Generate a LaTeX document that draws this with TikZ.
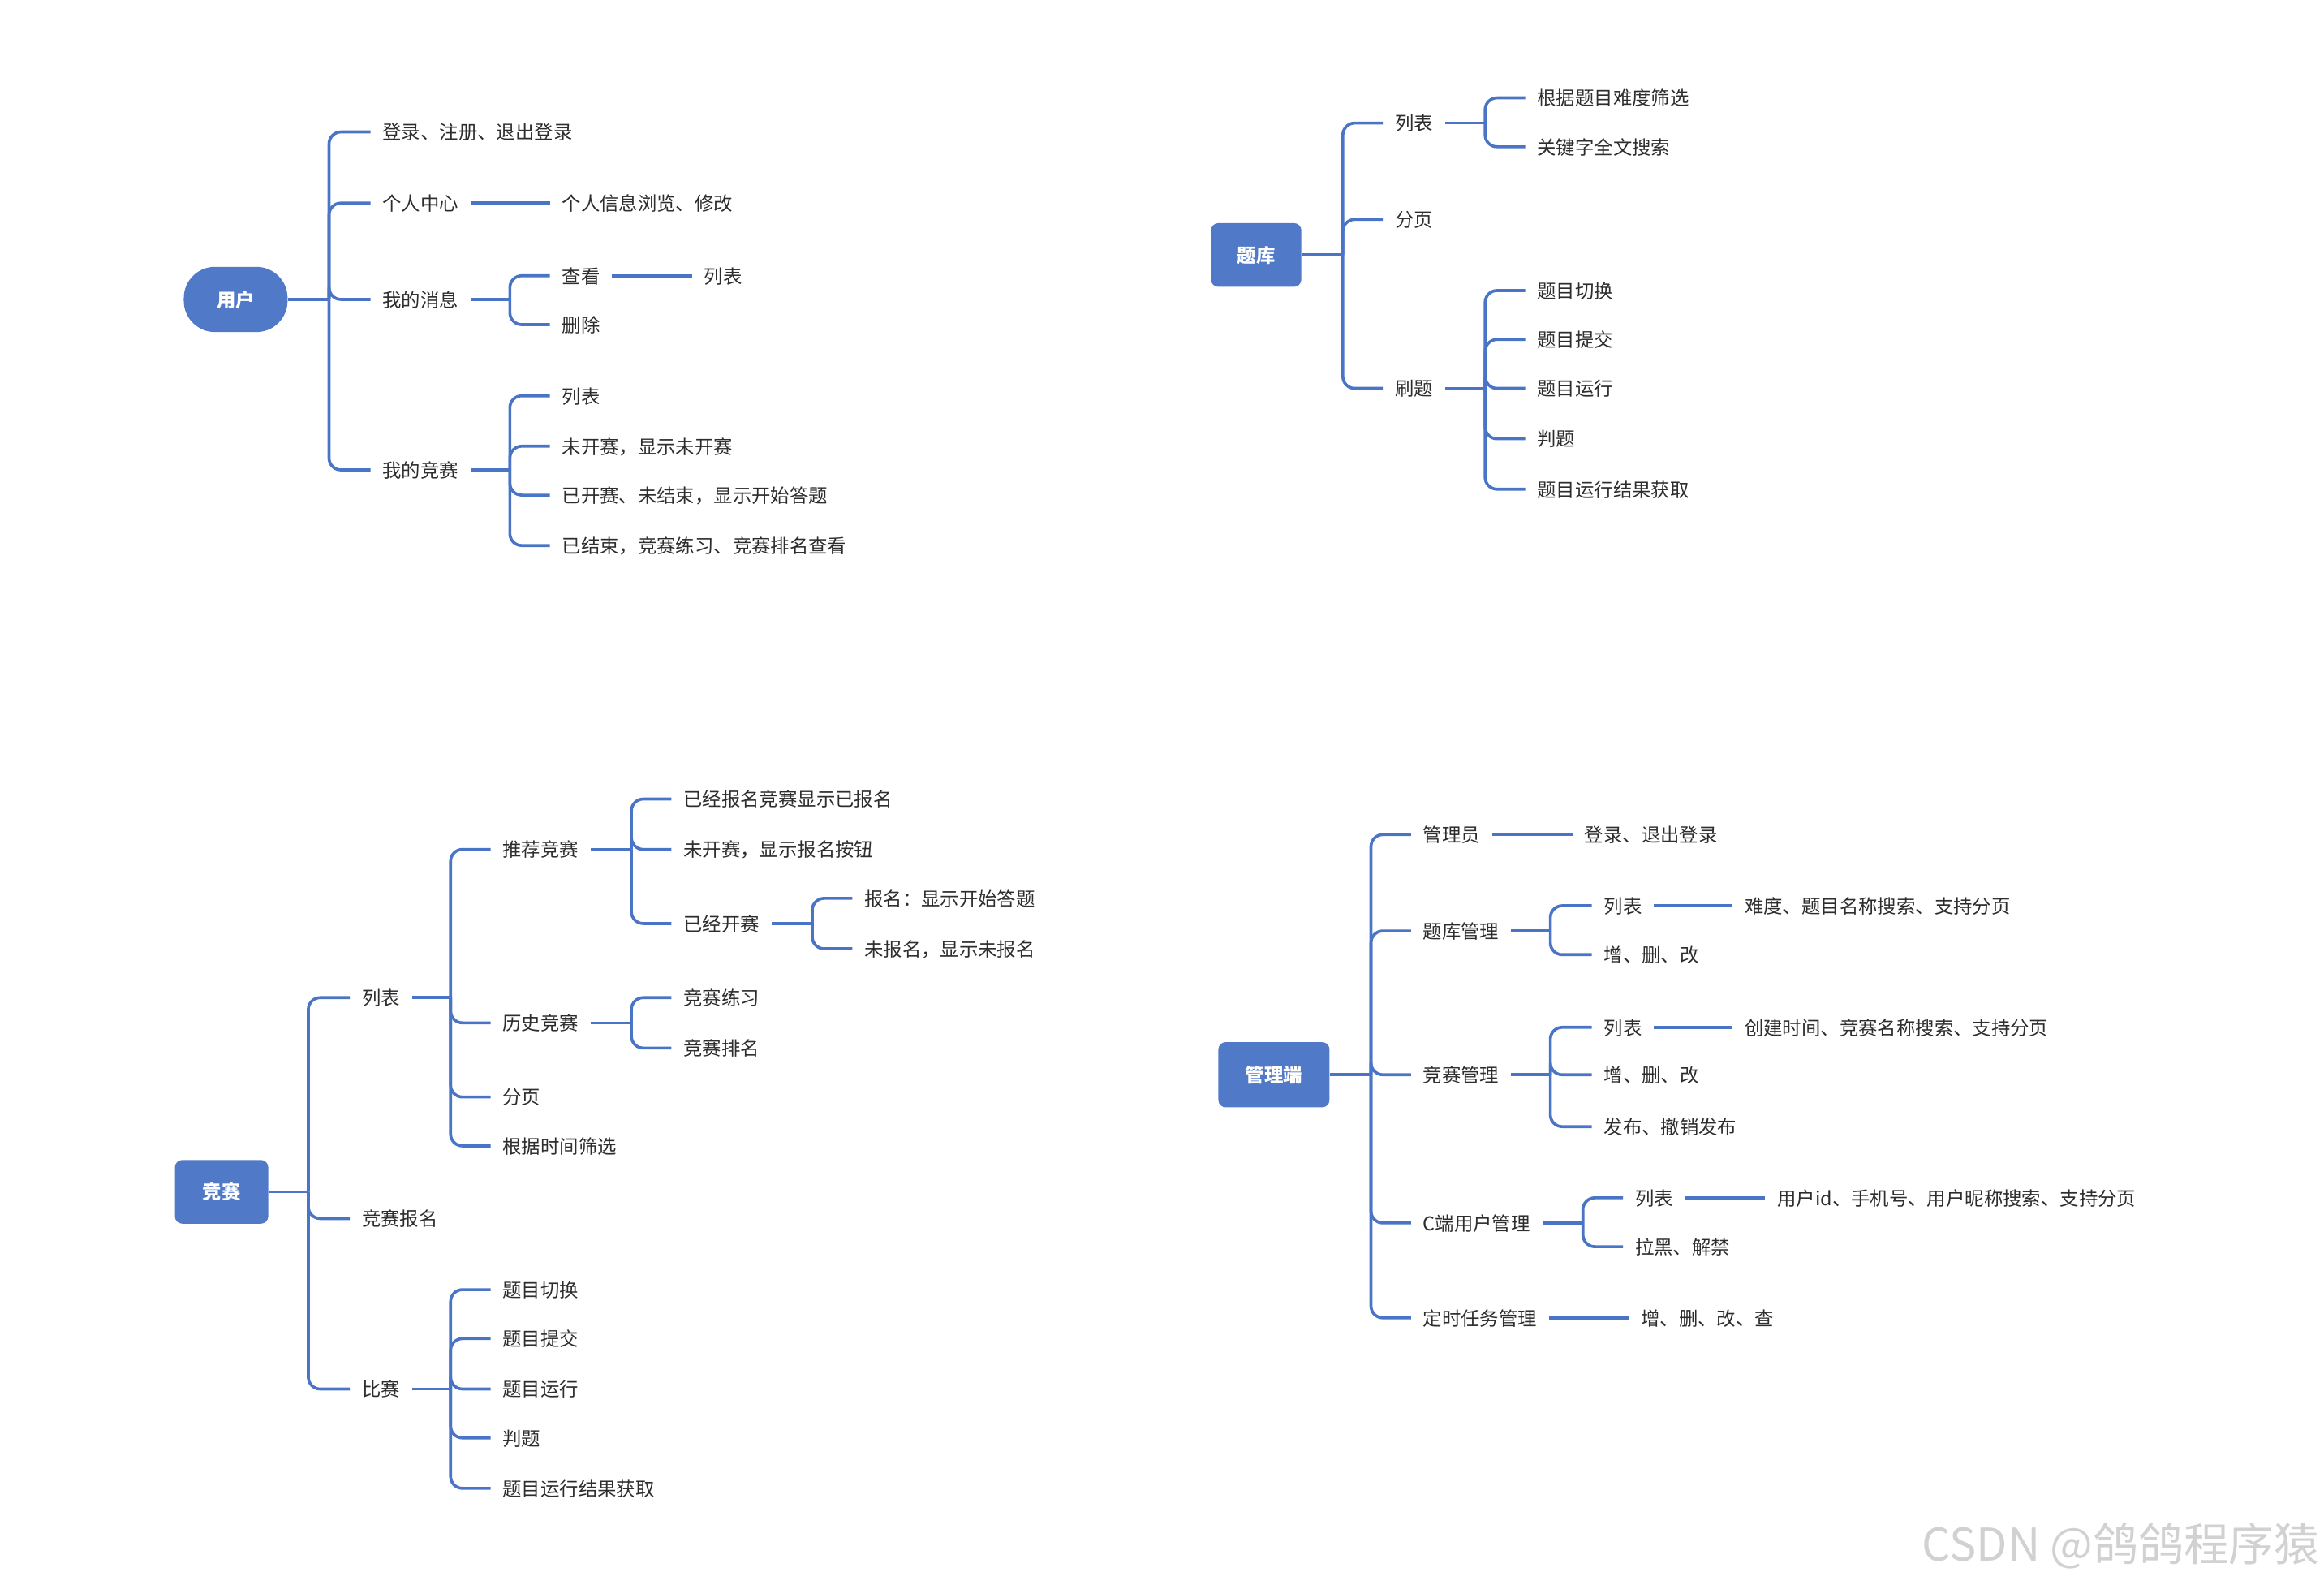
\documentclass[tikz,border=0pt]{standalone}
\usepackage{fontspec}
\newfontfamily\cjk{Noto Sans CJK SC}
\definecolor{lineblue}{RGB}{74,116,198}
\definecolor{rootblue}{RGB}{80,122,200}
\definecolor{txt}{RGB}{45,45,45}
\begin{document}
\begin{tikzpicture}[x=1pt,y=-1pt,
  conn/.style={draw=lineblue,line width=2pt,rounded corners=8pt},
  leaf/.style={anchor=west,inner xsep=8pt,inner ysep=2pt,text height=1.02em,text depth=0em,text=txt,font=\cjk\fontsize{12.8}{14}\selectfont},
  rootbox/.style={fill=rootblue,text=white,font=\cjk\bfseries\fontsize{12.8}{14}\selectfont,text height=1.02em,text depth=0em,rounded corners=5pt,inner sep=0pt},
  pill/.style={rootbox,rounded corners=21pt}]
\useasboundingbox (0,0) rectangle (1568,1069);

% ===== 用户 =====
\node[pill,minimum width=70pt,minimum height=44pt] (u) at (159,202) {用户};
\coordinate (uT) at (222,202);
\node[leaf] (u1) at (250,89) {登录、注册、退出登录};
\node[leaf] (u2) at (250,137) {个人中心};
\node[leaf] (u3) at (250,202) {我的消息};
\node[leaf] (u4) at (250,317) {我的竞赛};
\node[leaf] (u21) at (371,137) {个人信息浏览、修改};
\coordinate (u3T) at (344,202);
\node[leaf] (u31) at (371,186) {查看};
\node[leaf] (u32) at (371,219) {删除};
\node[leaf] (u311) at (467,186) {列表};
\coordinate (u4T) at (344,317);
\node[leaf] (u41) at (371,267) {列表};
\node[leaf] (u42) at (371,301) {未开赛，显示未开赛};
\node[leaf] (u43) at (371,334) {已开赛、未结束，显示开始答题};
\node[leaf] (u44) at (371,368) {已结束，竞赛练习、竞赛排名查看};
\draw[conn] (u.east) -- (uT);
\foreach \c in {u1,u2,u3,u4} \draw[conn] (uT) |- (\c.west);
\draw[conn] (u2.east) -- (u21.west);
\draw[conn] (u3.east) -- (u3T);
\foreach \c in {u31,u32} \draw[conn] (u3T) |- (\c.west);
\draw[conn] (u31.east) -- (u311.west);
\draw[conn] (u4.east) -- (u4T);
\foreach \c in {u41,u42,u43,u44} \draw[conn] (u4T) |- (\c.west);

% ===== 题库 =====
\node[rootbox,minimum width=61pt,minimum height=43pt] (t) at (847.5,172) {题库};
\coordinate (tT) at (906,172);
\node[leaf] (t1) at (933,83) {列表};
\node[leaf] (t2) at (933,148) {分页};
\node[leaf] (t3) at (933,262) {刷题};
\coordinate (t1T) at (1002,83);
\node[leaf] (t11) at (1029,66) {根据题目难度筛选};
\node[leaf] (t12) at (1029,99) {关键字全文搜索};
\coordinate (t3T) at (1002,262);
\node[leaf] (t31) at (1029,196) {题目切换};
\node[leaf] (t32) at (1029,229) {题目提交};
\node[leaf] (t33) at (1029,262) {题目运行};
\node[leaf] (t34) at (1029,296) {判题};
\node[leaf] (t35) at (1029,330) {题目运行结果获取};
\draw[conn] (t.east) -- (tT);
\foreach \c in {t1,t2,t3} \draw[conn] (tT) |- (\c.west);
\draw[conn] (t1.east) -- (t1T);
\foreach \c in {t11,t12} \draw[conn] (t1T) |- (\c.west);
\draw[conn] (t3.east) -- (t3T);
\foreach \c in {t31,t32,t33,t34,t35} \draw[conn] (t3T) |- (\c.west);

% ===== 竞赛 =====
\node[rootbox,minimum width=63pt,minimum height=43pt] (c) at (149.5,804) {竞赛};
\coordinate (cT) at (208,804);
\node[leaf] (c1) at (236,673) {列表};
\node[leaf] (c2) at (236,822) {竞赛报名};
\node[leaf] (c3) at (236,937) {比赛};
\coordinate (c1T) at (304,673);
\node[leaf] (c11) at (331,573) {推荐竞赛};
\node[leaf] (c12) at (331,690) {历史竞赛};
\node[leaf] (c13) at (331,740) {分页};
\node[leaf] (c14) at (331,773) {根据时间筛选};
\coordinate (c11T) at (426,573);
\node[leaf] (c111) at (453,539) {已经报名竞赛显示已报名};
\node[leaf] (c112) at (453,573) {未开赛，显示报名按钮};
\node[leaf] (c113) at (453,623) {已经开赛};
\coordinate (c113T) at (548,623);
\node[leaf] (c1131) at (575,606) {报名：显示开始答题};
\node[leaf] (c1132) at (575,640) {未报名，显示未报名};
\coordinate (c12T) at (426,690);
\node[leaf] (c121) at (453,673) {竞赛练习};
\node[leaf] (c122) at (453,707) {竞赛排名};
\coordinate (c3T) at (304,937);
\node[leaf] (c31) at (331,870) {题目切换};
\node[leaf] (c32) at (331,903) {题目提交};
\node[leaf] (c33) at (331,937) {题目运行};
\node[leaf] (c34) at (331,970) {判题};
\node[leaf] (c35) at (331,1004) {题目运行结果获取};
\draw[conn] (c.east) -- (cT);
\foreach \k in {c1,c2,c3} \draw[conn] (cT) |- (\k.west);
\draw[conn] (c1.east) -- (c1T);
\foreach \k in {c11,c12,c13,c14} \draw[conn] (c1T) |- (\k.west);
\draw[conn] (c11.east) -- (c11T);
\foreach \k in {c111,c112,c113} \draw[conn] (c11T) |- (\k.west);
\draw[conn] (c113.east) -- (c113T);
\foreach \k in {c1131,c1132} \draw[conn] (c113T) |- (\k.west);
\draw[conn] (c12.east) -- (c12T);
\foreach \k in {c121,c122} \draw[conn] (c12T) |- (\k.west);
\draw[conn] (c3.east) -- (c3T);
\foreach \k in {c31,c32,c33,c34,c35} \draw[conn] (c3T) |- (\k.west);

% ===== 管理端 =====
\node[rootbox,minimum width=75pt,minimum height=44pt] (m) at (859.5,725) {管理端};
\coordinate (mT) at (925,725);
\node[leaf] (m1) at (952,563) {管理员};
\node[leaf] (m2) at (952,628) {题库管理};
\node[leaf] (m3) at (952,725) {竞赛管理};
\node[leaf] (m4) at (952,825) {C端用户管理};
\node[leaf] (m5) at (952,889) {定时任务管理};
\node[leaf] (m11) at (1061,563) {登录、退出登录};
\coordinate (m2T) at (1046,628);
\node[leaf] (m21) at (1074,611) {列表};
\node[leaf] (m22) at (1074,644) {增、删、改};
\node[leaf] (m211) at (1169,611) {难度、题目名称搜索、支持分页};
\coordinate (m3T) at (1046,725);
\node[leaf] (m31) at (1074,693) {列表};
\node[leaf] (m32) at (1074,725) {增、删、改};
\node[leaf] (m33) at (1074,760) {发布、撤销发布};
\node[leaf] (m311) at (1169,693) {创建时间、竞赛名称搜索、支持分页};
\coordinate (m4T) at (1068,825);
\node[leaf] (m41) at (1095,808) {列表};
\node[leaf] (m42) at (1095,841) {拉黑、解禁};
\node[leaf] (m411) at (1191,808) {用户id、手机号、用户昵称搜索、支持分页};
\node[leaf] (m51) at (1099,889) {增、删、改、查};
\draw[conn] (m.east) -- (mT);
\foreach \k in {m1,m2,m3,m4,m5} \draw[conn] (mT) |- (\k.west);
\draw[conn] (m1.east) -- (m11.west);
\draw[conn] (m2.east) -- (m2T);
\foreach \k in {m21,m22} \draw[conn] (m2T) |- (\k.west);
\draw[conn] (m21.east) -- (m211.west);
\draw[conn] (m3.east) -- (m3T);
\foreach \k in {m31,m32,m33} \draw[conn] (m3T) |- (\k.west);
\draw[conn] (m31.east) -- (m311.west);
\draw[conn] (m4.east) -- (m4T);
\foreach \k in {m41,m42} \draw[conn] (m4T) |- (\k.west);
\draw[conn] (m41.east) -- (m411.west);
\draw[conn] (m5.east) -- (m51.west);

% watermark
\node[anchor=east,inner sep=0pt,text=black!18,font=\cjk\fontsize{30.5}{32}\selectfont] (wm) at (1565,1043) {CSDN @鸽鸽程序猿};
\end{tikzpicture}
\end{document}
